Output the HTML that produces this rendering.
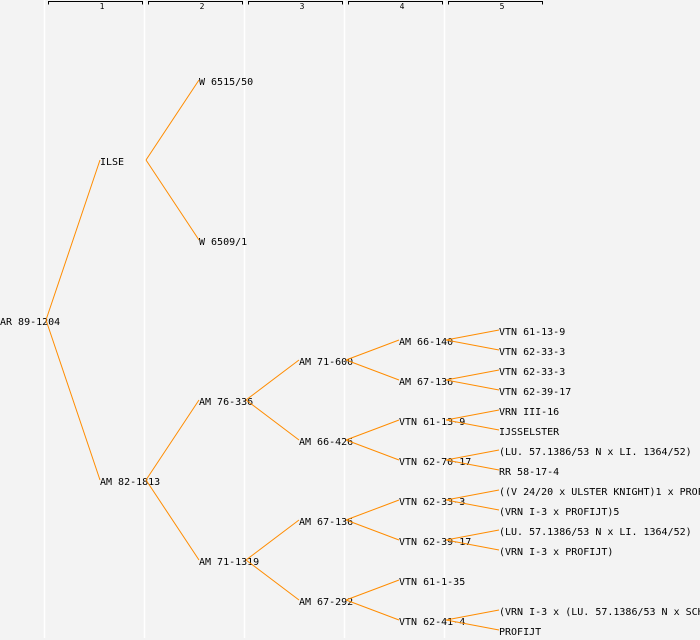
<!DOCTYPE html>
<html><head><style>
html,body{margin:0;padding:0;background:#f3f3f3;}
svg{display:block;}
text{font-family:"DejaVu Sans Mono","Liberation Mono",monospace;font-size:10px;fill:#000;}
.h{font-size:8px;}
</style></head><body>
<svg width="700" height="640" xmlns="http://www.w3.org/2000/svg">
<rect width="700" height="640" fill="#f3f3f3"/>
<g stroke="#ffffff" stroke-width="1.5">
<line x1="44.5" y1="0" x2="44.5" y2="638"/>
<line x1="144.5" y1="0" x2="144.5" y2="638"/>
<line x1="244.5" y1="0" x2="244.5" y2="638"/>
<line x1="344.5" y1="0" x2="344.5" y2="638"/>
<line x1="444.5" y1="0" x2="444.5" y2="638"/>
</g>
<g stroke="#000" stroke-width="1" fill="none">
<path d="M48.5,4.5V1.5H142.5V4.5"/>
<path d="M148.5,4.5V1.5H242.5V4.5"/>
<path d="M248.5,4.5V1.5H342.5V4.5"/>
<path d="M348.5,4.5V1.5H442.5V4.5"/>
<path d="M448.5,4.5V1.5H542.5V4.5"/>
</g>
<g class="h" text-anchor="middle">
<text class="h" x="102" y="9">1</text><text class="h" x="202" y="9">2</text><text class="h" x="302" y="9">3</text><text class="h" x="402" y="9">4</text><text class="h" x="502" y="9">5</text>
</g>
<g transform="translate(0,-1)">
<text x="0" y="326">AR 89-1204</text>
<text x="100" y="166">ILSE</text>
<text x="100" y="486">AM 82-1813</text>
<text x="199" y="86">W 6515/50</text>
<text x="199" y="246">W 6509/1</text>
<text x="199" y="406">AM 76-336</text>
<text x="199" y="566">AM 71-1319</text>
<text x="299" y="366">AM 71-600</text>
<text x="299" y="446">AM 66-426</text>
<text x="299" y="526">AM 67-136</text>
<text x="299" y="606">AM 67-292</text>
<text x="399" y="346">AM 66-140</text>
<text x="399" y="386">AM 67-136</text>
<text x="399" y="426">VTN 61-13-9</text>
<text x="399" y="466">VTN 62-70-17</text>
<text x="399" y="506">VTN 62-33-3</text>
<text x="399" y="546">VTN 62-39-17</text>
<text x="399" y="586">VTN 61-1-35</text>
<text x="399" y="626">VTN 62-41-4</text>
<text x="499" y="336">VTN 61-13-9</text>
<text x="499" y="356">VTN 62-33-3</text>
<text x="499" y="376">VTN 62-33-3</text>
<text x="499" y="396">VTN 62-39-17</text>
<text x="499" y="416">VRN III-16</text>
<text x="499" y="436">IJSSELSTER</text>
<text x="499" y="456">(LU. 57.1386/53 N x LI. 1364/52)</text>
<text x="499" y="476">RR 58-17-4</text>
<text x="499" y="496">((V 24/20 x ULSTER KNIGHT)1 x PROFIJT)</text>
<text x="499" y="516">(VRN I-3 x PROFIJT)5</text>
<text x="499" y="536">(LU. 57.1386/53 N x LI. 1364/52)</text>
<text x="499" y="556">(VRN I-3 x PROFIJT)</text>
<text x="499" y="616">(VRN I-3 x (LU. 57.1386/53 N x SCHWALBE))</text>
<text x="499" y="636">PROFIJT</text>
</g>
<g stroke="#ff8c00" stroke-width="1" fill="none">
<path d="M46,320L100,160M46,320L100,480"/>
<path d="M146,160L199,80M146,160L199,240M146,480L199,400M146,480L199,560"/>
<path d="M246,400L299,360M246,400L299,440M246,560L299,520M246,560L299,600"/>
<path d="M346,360L399,340M346,360L399,380M346,440L399,420M346,440L399,460M346,520L399,500M346,520L399,540M346,600L399,580M346,600L399,620"/>
<path d="M446,340L499,330M446,340L499,350M446,380L499,370M446,380L499,390M446,420L499,410M446,420L499,430M446,460L499,450M446,460L499,470M446,500L499,490M446,500L499,510M446,540L499,530M446,540L499,550M446,620L499,610M446,620L499,630"/>
</g>
</svg>
</body></html>
